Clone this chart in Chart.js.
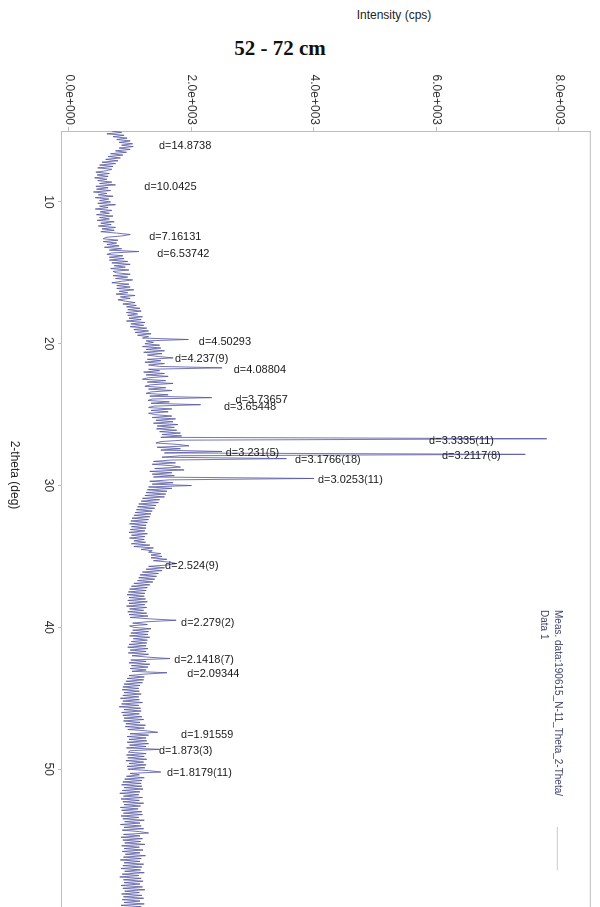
<!DOCTYPE html>
<html>
<head>
<meta charset="utf-8">
<script src="https://cdn.jsdelivr.net/npm/chart.js@4.4.1/dist/chart.umd.min.js"></script>
<style>
  html, body { margin: 0; padding: 0; background: #fff; }
  body { width: 600px; height: 907px; overflow: hidden; position: relative; font-family: "Liberation Sans", Arial, sans-serif; color: #222; }
  /* the plot is drawn the usual way (2-theta along x) and the sheet is turned 90deg clockwise, like the scanned printout */
  #sheet { position: absolute; left: 0; top: 0; width: 940px; height: 600px; transform-origin: 0 0; transform: translate(600px, 0) rotate(90deg); }
  #sample { position: absolute; left: 280px; top: 48px; transform: translate(-50%, -50%); font: bold 21px "Liberation Serif", "Times New Roman", serif; color: #111; white-space: nowrap; }
  #yTitle { position: absolute; left: 394px; top: 15px; transform: translate(-50%, -50%); font-size: 12px; white-space: nowrap; }
  #xTitle { position: absolute; left: 475px; top: 585px; transform: translate(-50%, -50%); font-size: 12px; white-space: nowrap; }
</style>
</head>
<body>
<div id="yTitle">Intensity (cps)</div>
<div id="sample">52 - 72 cm</div>
<div id="sheet">
  <canvas id="xrd" width="940" height="600"></canvas>
  <div id="xTitle">2-theta (deg)</div>
</div>
<script>
// scan positions (deg)
const twoTheta = [
  5.0,5.1,5.2,5.3,5.4,5.5,5.6,5.7,5.8,5.9,
  6.0,6.1,6.2,6.3,6.4,6.5,6.6,6.7,6.8,6.9,
  7.0,7.1,7.2,7.3,7.4,7.5,7.6,7.7,7.8,7.9,
  8.0,8.1,8.2,8.3,8.4,8.5,8.6,8.7,8.8,8.9,
  9.0,9.1,9.2,9.3,9.4,9.5,9.6,9.7,9.8,9.9,
  10.0,10.1,10.2,10.3,10.4,10.5,10.6,10.7,10.8,10.9,
  11.0,11.1,11.2,11.3,11.4,11.5,11.6,11.7,11.8,11.9,
  12.0,12.1,12.2,12.3,12.4,12.5,12.6,12.7,12.8,12.9,
  13.0,13.1,13.2,13.3,13.4,13.5,13.6,13.7,13.8,13.9,
  14.0,14.1,14.2,14.3,14.4,14.5,14.6,14.7,14.8,14.9,
  15.0,15.1,15.2,15.3,15.4,15.5,15.6,15.7,15.8,15.9,
  16.0,16.1,16.2,16.3,16.4,16.5,16.6,16.7,16.8,16.9,
  17.0,17.1,17.2,17.3,17.4,17.5,17.6,17.7,17.8,17.9,
  18.0,18.1,18.2,18.3,18.4,18.5,18.6,18.7,18.8,18.9,
  19.0,19.1,19.2,19.3,19.4,19.5,19.6,19.7,19.8,19.9,
  20.0,20.1,20.2,20.3,20.4,20.5,20.6,20.7,20.8,20.9,
  21.0,21.1,21.2,21.3,21.4,21.5,21.6,21.7,21.8,21.9,
  22.0,22.1,22.2,22.3,22.4,22.5,22.6,22.7,22.8,22.9,
  23.0,23.1,23.2,23.3,23.4,23.5,23.6,23.7,23.8,23.9,
  24.0,24.1,24.2,24.3,24.4,24.5,24.6,24.7,24.8,24.9,
  25.0,25.1,25.2,25.3,25.4,25.5,25.6,25.7,25.8,25.9,
  26.0,26.1,26.2,26.3,26.4,26.5,26.6,26.7,26.8,26.9,
  27.0,27.1,27.2,27.3,27.4,27.5,27.6,27.7,27.8,27.9,
  28.0,28.1,28.2,28.3,28.4,28.5,28.6,28.7,28.8,28.9,
  29.0,29.1,29.2,29.3,29.4,29.5,29.6,29.7,29.8,29.9,
  30.0,30.1,30.2,30.3,30.4,30.5,30.6,30.7,30.8,30.9,
  31.0,31.1,31.2,31.3,31.4,31.5,31.6,31.7,31.8,31.9,
  32.0,32.1,32.2,32.3,32.4,32.5,32.6,32.7,32.8,32.9,
  33.0,33.1,33.2,33.3,33.4,33.5,33.6,33.7,33.8,33.9,
  34.0,34.1,34.2,34.3,34.4,34.5,34.6,34.7,34.8,34.9,
  35.0,35.1,35.2,35.3,35.4,35.5,35.6,35.7,35.8,35.9,
  36.0,36.1,36.2,36.3,36.4,36.5,36.6,36.7,36.8,36.9,
  37.0,37.1,37.2,37.3,37.4,37.5,37.6,37.7,37.8,37.9,
  38.0,38.1,38.2,38.3,38.4,38.5,38.6,38.7,38.8,38.9,
  39.0,39.1,39.2,39.3,39.4,39.5,39.6,39.7,39.8,39.9,
  40.0,40.1,40.2,40.3,40.4,40.5,40.6,40.7,40.8,40.9,
  41.0,41.1,41.2,41.3,41.4,41.5,41.6,41.7,41.8,41.9,
  42.0,42.1,42.2,42.3,42.4,42.5,42.6,42.7,42.8,42.9,
  43.0,43.1,43.2,43.3,43.4,43.5,43.6,43.7,43.8,43.9,
  44.0,44.1,44.2,44.3,44.4,44.5,44.6,44.7,44.8,44.9,
  45.0,45.1,45.2,45.3,45.4,45.5,45.6,45.7,45.8,45.9,
  46.0,46.1,46.2,46.3,46.4,46.5,46.6,46.7,46.8,46.9,
  47.0,47.1,47.2,47.3,47.4,47.5,47.6,47.7,47.8,47.9,
  48.0,48.1,48.2,48.3,48.4,48.5,48.6,48.7,48.8,48.9,
  49.0,49.1,49.2,49.3,49.4,49.5,49.6,49.7,49.8,49.9,
  50.0,50.1,50.2,50.3,50.4,50.5,50.6,50.7,50.8,50.9,
  51.0,51.1,51.2,51.3,51.4,51.5,51.6,51.7,51.8,51.9,
  52.0,52.1,52.2,52.3,52.4,52.5,52.6,52.7,52.8,52.9,
  53.0,53.1,53.2,53.3,53.4,53.5,53.6,53.7,53.8,53.9,
  54.0,54.1,54.2,54.3,54.4,54.5,54.6,54.7,54.8,54.9,
  55.0,55.1,55.2,55.3,55.4,55.5,55.6,55.7,55.8,55.9,
  56.0,56.1,56.2,56.3,56.4,56.5,56.6,56.7,56.8,56.9,
  57.0,57.1,57.2,57.3,57.4,57.5,57.6,57.7,57.8,57.9,
  58.0,58.1,58.2,58.3,58.4,58.5,58.6,58.7,58.8,58.9,
  59.0,59.1,59.2,59.3,59.4,59.5,59.6,59.7,59.8,59.9,
  60.0
];

// intensity (cps), one row per degree
const counts = [
  700,860,620,900,720,950,780,1000,820,1040,
  860,1050,820,1000,760,940,680,880,640,840,
  600,800,540,760,500,720,470,700,610,440,
  660,460,640,420,620,470,700,500,760,440,
  640,450,680,400,620,480,720,430,650,500,
  680,470,760,500,640,430,700,510,660,450,
  720,500,660,460,740,520,690,480,760,540,
  740,520,780,1000,860,600,560,800,560,780,
  620,820,580,860,660,1140,700,620,880,660,
  900,660,960,700,1000,740,920,680,980,720,
  780,1000,720,960,760,1040,860,700,980,780,
  1000,780,1060,820,960,770,1080,840,1000,800,
  920,1080,880,1100,940,1160,960,1180,940,1120,
  960,1200,980,1180,940,1240,1010,1220,1000,1270,
  1060,1300,1080,1340,1120,1300,1200,1950,1260,1380,
  1240,1480,1200,1500,1260,1560,1220,1520,1280,1460,
  1700,1280,1500,1240,1560,1300,1480,2500,1300,1480,
  1220,1560,1260,1620,1300,1200,1580,1280,1700,1330,
  1240,1580,1300,1680,1340,1260,1620,1320,2330,1360,
  1290,1640,1340,2150,1380,1300,1680,1340,1620,1300,
  1400,1680,1360,1740,1420,1700,1380,1780,1440,1720,
  1430,1760,1480,1820,1520,1840,1500,7800,1860,1500,
  1420,1780,1960,1440,1820,1500,2500,1560,7450,1820,
  1520,3550,1680,1380,1740,1360,1680,1820,1400,1880,
  1320,1680,1360,1720,1380,4000,1640,1320,1700,1360,
  2000,1300,1680,1280,1600,1260,1580,1240,1560,1200,
  1480,1180,1460,1140,1420,1120,1400,1100,1360,1080,
  1340,1060,1320,1030,1300,1010,1280,990,1260,1020,
  1260,1000,1240,980,1280,1020,1240,990,1230,1060,
  1250,1020,1320,1060,1380,1180,1360,1300,1500,1340,
  1520,1340,1600,1380,1640,1750,1620,1300,1560,1260,
  1520,1200,1460,1160,1430,1140,1400,1120,1370,1060,
  1320,1020,1280,990,1260,970,1240,950,1230,980,
  1250,960,1280,980,1240,940,1270,990,1220,960,
  1270,980,1290,1000,1320,1750,1290,1040,1280,990,
  1060,1340,1040,1300,1010,1290,990,1320,1050,1280,
  1020,1270,980,1260,960,1290,1000,1260,970,1300,
  1030,1290,1650,1010,1260,980,1320,1020,1290,1000,
  1260,1030,1600,1220,980,1230,950,1220,930,1200,
  900,1160,880,1140,870,1150,900,1180,880,1140,
  840,1150,880,1200,860,1140,820,1170,900,1180,
  860,1150,880,1190,900,1220,890,1160,930,1250,
  920,1230,960,1280,1450,1000,1300,950,1260,980,
  1270,950,1300,990,1260,940,1480,1000,970,1260,
  940,1230,960,1270,930,1220,980,1260,950,1240,
  960,1300,1500,1000,1150,940,1230,910,1190,880,
  1180,860,1190,900,1210,870,1160,830,1140,890,
  1200,850,1150,880,1220,900,1170,840,1130,860,
  1190,890,1200,850,1140,880,1230,910,1160,840,
  1180,900,1220,870,1150,1300,890,1160,850,1200,
  880,1170,910,1240,860,1150,900,1210,870,1160,
  920,1250,890,1180,840,1160,900,1220,880,1190,
  850,1170,910,1230,870,1140,830,1180,890,1210,
  900,1160,850,1200,880,1240,910,1150,860,1190,
  890,1220,870,1160,900,1230,850,1180,910,1170,
  1000
];

// peak search results: d-spacing text, peak position (deg), intensity where the text begins (cps)
const peakLabels = ['d=14.8738', 'd=10.0425', 'd=7.16131', 'd=6.53742', 'd=4.50293', 'd=4.237(9)', 'd=4.08804',
  'd=3.73657', 'd=3.65448', 'd=3.3335(11)', 'd=3.231(5)', 'd=3.2117(8)', 'd=3.1766(18)', 'd=3.0253(11)',
  'd=2.524(9)', 'd=2.279(2)', 'd=2.1418(7)', 'd=2.09344', 'd=1.91559', 'd=1.873(3)', 'd=1.8179(11)'];
const peakAngles = [5.94, 8.80, 12.35, 13.53, 19.70, 20.95, 21.72,
  23.79, 24.34, 26.72, 27.59, 27.76, 28.07, 29.50,
  35.54, 39.52, 42.16, 43.18, 47.43, 48.58, 50.15];
const labelCounts = [1470, 1230, 1310, 1440, 2120, 1730, 2690,
  2720, 2530, 5880, 2560, 6090, 3690, 4065,
  1570, 1830, 1720, 1930, 1830, 1470, 1600];

const angleTicks = [10, 20, 30, 40, 50];
const countTicks = [0, 2000, 4000, 6000, 8000];
const legendLines = ['Meas. data:190615_N-11_Theta_2-Theta/', 'Data 1'];

const FONT = '"Liberation Sans", Arial, sans-serif';
const AXIS_GREY = '#bdbdbd';

// 2000 -> "2.0e+003"
function sci(v) {
  const parts = v.toExponential(1).split('e');
  const e = parseInt(parts[1], 10);
  return parts[0] + 'e' + (e < 0 ? '-' : '+') + String(Math.abs(e)).padStart(3, '0');
}

const framePlugin = {
  id: 'frame',
  beforeDatasetsDraw(chart) {
    const {ctx, chartArea: a} = chart;
    ctx.save();
    ctx.strokeStyle = AXIS_GREY;
    ctx.lineWidth = 1;
    ctx.beginPath();
    ctx.moveTo(a.left, a.top + 0.5);
    ctx.lineTo(a.right, a.top + 0.5);
    ctx.lineTo(a.right, a.bottom);
    ctx.stroke();
    ctx.restore();
  }
};

const peakLabelPlugin = {
  id: 'peakLabels',
  afterDatasetsDraw(chart) {
    const {ctx, scales: {x, y}} = chart;
    ctx.save();
    ctx.font = '11px ' + FONT;
    ctx.fillStyle = '#1e1e1e';
    ctx.textAlign = 'left';
    ctx.textBaseline = 'middle';
    peakLabels.forEach((txt, i) => {
      ctx.save();
      ctx.translate(x.getPixelForValue(peakAngles[i]) + 2, y.getPixelForValue(labelCounts[i]));
      ctx.rotate(-Math.PI / 2);
      ctx.fillText(txt, 0, 0);
      ctx.restore();
    });
    ctx.restore();
  }
};

const legendPlugin = {
  id: 'xrdLegend',
  afterDraw(chart) {
    const {ctx, chartArea: a} = chart;
    ctx.save();
    ctx.font = '10px ' + FONT;
    ctx.fillStyle = '#3a3e66';
    ctx.textBaseline = 'middle';
    ctx.fillText(legendLines[0], 610, a.top + 33);
    ctx.fillText(legendLines[1], 610, a.top + 47);
    ctx.strokeStyle = '#c9c9d6';
    ctx.lineWidth = 1;
    ctx.beginPath();
    ctx.moveTo(827, a.top + 33.5);
    ctx.lineTo(870, a.top + 33.5);
    ctx.stroke();
    ctx.restore();
  }
};

new Chart(document.getElementById('xrd'), {
  type: 'scatter',
  data: {
    datasets: [{
      label: legendLines.join(''),
      data: twoTheta.map((t, i) => ({x: t, y: counts[i]})),
      showLine: true,
      borderColor: 'rgba(82, 84, 162, 0.8)',
      borderWidth: 1,
      pointRadius: 0,
      tension: 0
    }]
  },
  options: {
    responsive: false,
    animation: false,
    layout: {padding: {top: 5, right: 29, left: 0, bottom: 0}},
    plugins: {
      legend: {display: false},
      tooltip: {enabled: false}
    },
    scales: {
      x: {
        type: 'linear',
        position: 'bottom',
        min: 5,
        max: 60,
        afterBuildTicks: s => { s.ticks = angleTicks.map(v => ({value: v})); },
        afterFit: s => { s.height = 62; },
        ticks: {color: '#333', font: {family: FONT, size: 12}, padding: 2, maxRotation: 0},
        grid: {drawOnChartArea: false, tickLength: 4, color: AXIS_GREY},
        border: {color: AXIS_GREY}
      },
      y: {
        type: 'linear',
        min: -113,
        max: 8520,
        afterBuildTicks: s => { s.ticks = countTicks.map(v => ({value: v})); },
        afterFit: s => { s.width = 131; },
        ticks: {color: '#333', font: {family: FONT, size: 12}, padding: 2, callback: v => sci(v)},
        grid: {drawOnChartArea: false, tickLength: 4, color: AXIS_GREY},
        border: {color: AXIS_GREY}
      }
    }
  },
  plugins: [framePlugin, peakLabelPlugin, legendPlugin]
});
</script>
</body>
</html>
